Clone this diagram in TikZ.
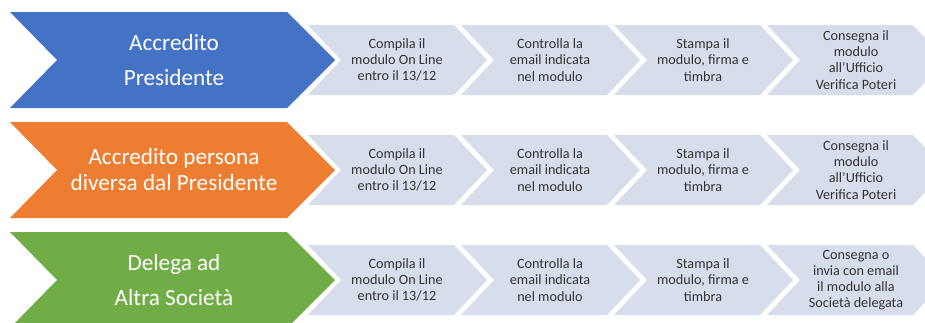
\documentclass[tikz,border=0pt]{standalone}
\usepackage{fontspec}
\setmainfont{Carlito}
\definecolor{accblue}{HTML}{4472C4}
\definecolor{accorange}{HTML}{ED7D31}
\definecolor{accgreen}{HTML}{70AD47}
\definecolor{steplight}{HTML}{D8DDEC}
\definecolor{steptxt}{HTML}{333333}
\tikzset{
  steptext/.style={text=steptxt, align=center, font=\fontsize{14.2}{16.2}\selectfont},
  bigtext/.style={text=white, align=center}
}
\begin{document}
\begin{tikzpicture}[x=1pt, y=-1pt]
\useasboundingbox (0,0) rectangle (925,322);
\clip (0,0) rectangle (925,322);
\foreach \r/\c/\col/\sk/\ttl/\lst in {
  1/60/accblue/35/{Accredito\\Presidente}/{Consegna il\\modulo\\all’Ufficio\\Verifica Poteri},
  2/170/accorange/26/{Accredito persona\\diversa dal Presidente}/{Consegna il\\modulo\\all’Ufficio\\Verifica Poteri},
  3/280/accgreen/35/{Delega ad\\Altra Società}/{Consegna o\\invia con email\\il modulo alla\\Società delegata}} {
  \foreach \i in {0,...,3} {
    \fill [steplight] (308+153*\i, \c-35) -- (454+153*\i, \c-35) -- (487+153*\i, \c)
      -- (454+153*\i, \c+35) -- (308+153*\i, \c+35) -- (341+153*\i, \c) -- cycle;
  }
  \fill [\col] (10, \c-48) -- (287, \c-48) -- (335, \c) -- (287, \c+48) -- (10, \c+48) -- (57, \c) -- cycle;
  \node [bigtext, font=\fontsize{23.2}{\sk}\selectfont] (title\r) at (174, \c) {\ttl};
  \node [steptext] (compila\r) at (397, \c) {Compila il\\modulo On Line\\entro il 13/12};
  \node [steptext] (controlla\r) at (550, \c) {Controlla la\\email indicata\\nel modulo};
  \node [steptext] (stampa\r) at (703, \c) {Stampa il\\modulo, firma e\\timbra};
  \node [steptext] (consegna\r) at (856, \c) {\lst};
}
\end{tikzpicture}
\end{document}
